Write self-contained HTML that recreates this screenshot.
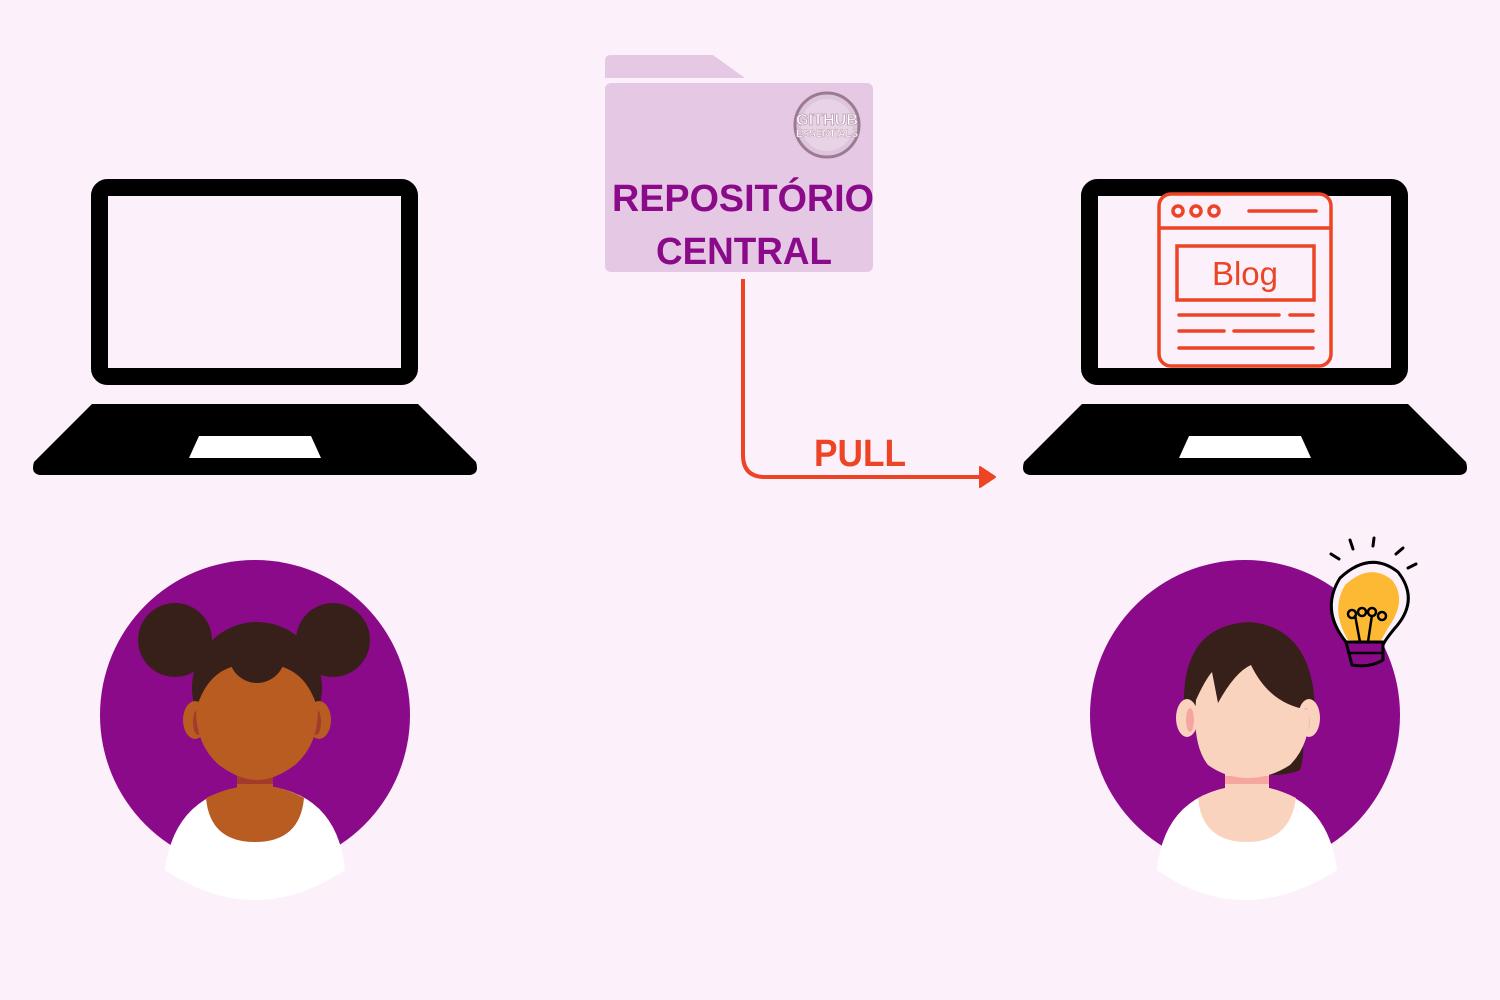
<!DOCTYPE html>
<html><head><meta charset="utf-8"><style>
html,body{margin:0;padding:0;background:#fcf1fa;}
svg{display:block}
</style></head><body>
<svg width="1500" height="1000" viewBox="0 0 1500 1000" xmlns="http://www.w3.org/2000/svg">
<rect width="1500" height="1000" fill="#fcf1fa"/>
<g>
<rect x="99.5" y="187.5" width="310" height="189" rx="8" fill="none" stroke="#000" stroke-width="17"/>
<path d="M92 404 H418 L476 462 Q480 475 468 475 H42 Q30 475 34 462 Z" fill="#000"/>
<path d="M199 436 H311 L321 458 H189 Z" fill="#fff"/>
</g>
<g transform="translate(990,0)">
<rect x="99.5" y="187.5" width="310" height="189" rx="8" fill="none" stroke="#000" stroke-width="17"/>
<path d="M92 404 H418 L476 462 Q480 475 468 475 H42 Q30 475 34 462 Z" fill="#000"/>
<path d="M199 436 H311 L321 458 H189 Z" fill="#fff"/>
</g>
<g stroke="#ec4424" stroke-width="3.5" fill="none" stroke-linecap="round">
<rect x="1159" y="194" width="172" height="172" rx="12" fill="#fcf1fa"/>
<line x1="1159" y1="228" x2="1331" y2="228"/>
<circle cx="1178" cy="211" r="5"/><circle cx="1196" cy="211" r="5"/><circle cx="1214" cy="211" r="5"/>
<line x1="1249" y1="211" x2="1316" y2="211"/>
<rect x="1177" y="246" width="137" height="54"/>
<line x1="1179" y1="315" x2="1279" y2="315"/><line x1="1290" y1="315" x2="1313" y2="315"/>
<line x1="1179" y1="331" x2="1224" y2="331"/><line x1="1234" y1="331" x2="1313" y2="331"/>
<line x1="1179" y1="348" x2="1313" y2="348"/>
</g>
<text x="1245" y="285" text-anchor="middle" font-family="Liberation Sans, sans-serif" font-size="33" fill="#ec4424">Blog</text>
<path d="M611 55 H713 L745 78 H605 V61 Q605 55 611 55 Z" fill="#e5c8e4"/>
<rect x="605" y="83" width="268" height="189" rx="6" fill="#e5c8e4"/>
<circle cx="827" cy="125" r="32" fill="#ddc5dd" stroke="#9e7a92" stroke-width="3"/>
<circle cx="827" cy="125" r="26" fill="#e8d3e6"/>
<text x="827" y="125" text-anchor="middle" font-family="Liberation Sans, sans-serif" font-weight="bold" font-size="16" fill="#fff" stroke="#b89aae" stroke-width="0.8" textLength="62" lengthAdjust="spacingAndGlyphs">GITHUB</text>
<text x="827" y="137" text-anchor="middle" font-family="Liberation Sans, sans-serif" font-weight="bold" font-size="11" fill="#fff" stroke="#b89aae" stroke-width="0.5" textLength="62" lengthAdjust="spacingAndGlyphs">ESSENTIALS</text>
<text x="743" y="211" text-anchor="middle" font-family="Liberation Sans, sans-serif" font-weight="bold" font-size="38" fill="#8a0a8a" textLength="262" lengthAdjust="spacingAndGlyphs">REPOSITÓRIO</text>
<text x="744" y="264" text-anchor="middle" font-family="Liberation Sans, sans-serif" font-weight="bold" font-size="38" fill="#8a0a8a" textLength="176" lengthAdjust="spacingAndGlyphs">CENTRAL</text>
<path d="M743 279 V455 Q743 477 765 477 H983" fill="none" stroke="#ec4424" stroke-width="4"/>
<path d="M980 467 L995 477 L980 487 Z" fill="#ec4424" stroke="#ec4424" stroke-width="2" stroke-linejoin="round"/>
<text x="860" y="466" text-anchor="middle" font-family="Liberation Sans, sans-serif" font-weight="bold" font-size="38" fill="#ec4424" textLength="92" lengthAdjust="spacingAndGlyphs">PULL</text>
<!-- Left avatar -->
<circle cx="255" cy="715" r="155" fill="#8a0a8a"/>
<path d="M165 870 Q175 790 257 785 Q337 790 345 870 Q300 900 255 900 Q210 900 165 870 Z" fill="#fff"/>
<path d="M206 798 Q230 786 257 785 Q283 786 304 798 Q300 842 255 842 Q210 842 206 798 Z" fill="#b85c22"/>
<rect x="237" y="760" width="36" height="30" fill="#b85c22"/>
<rect x="237" y="776" width="36" height="8" fill="#a33b2c"/>
<circle cx="175" cy="640" r="37" fill="#38201a"/>
<circle cx="333" cy="640" r="37" fill="#38201a"/>
<ellipse cx="257" cy="688" rx="65" ry="66" fill="#38201a"/>
<ellipse cx="195" cy="720" rx="12" ry="19" fill="#b85c22"/>
<ellipse cx="198" cy="722" rx="5" ry="13" fill="#a33b2c"/>
<ellipse cx="319" cy="720" rx="12" ry="19" fill="#b85c22"/>
<ellipse cx="316" cy="722" rx="5" ry="13" fill="#a33b2c"/>
<path d="M196 710 Q210 660 257 665 Q304 660 318 710 Q318 745 295 765 Q275 780 257 780 Q239 780 219 765 Q196 745 196 710 Z" fill="#b85c22"/>
<circle cx="257" cy="655" r="28" fill="#38201a"/>
<!-- Right avatar -->
<circle cx="1245" cy="715" r="155" fill="#8a0a8a"/>
<path d="M1157 870 Q1165 790 1247 785 Q1327 790 1337 870 Q1290 900 1245 900 Q1200 900 1157 870 Z" fill="#fff"/>
<path d="M1198 798 Q1222 786 1247 785 Q1273 786 1296 798 Q1290 842 1247 842 Q1202 842 1198 798 Z" fill="#fad3bf"/>
<rect x="1225" y="760" width="44" height="30" fill="#fad3bf"/>
<rect x="1225" y="776" width="44" height="8" fill="#f5a6a0"/>
<path d="M1290 700 Q1310 740 1300 770 Q1290 775 1270 775 Z" fill="#38201a"/>
<path d="M1184 705 Q1182 625 1250 622 Q1312 628 1315 708 Z" fill="#38201a"/>
<ellipse cx="1187" cy="718" rx="11" ry="19" fill="#fad3bf"/>
<ellipse cx="1190" cy="720" rx="4" ry="12" fill="#f5a6a0"/>
<ellipse cx="1309" cy="718" rx="11" ry="19" fill="#fad3bf"/>
<ellipse cx="1306" cy="720" rx="4" ry="12" fill="#f5a6a0"/>
<path d="M1196 700 Q1205 680 1212 672 L1218 703 Q1235 672 1251 665 Q1270 705 1310 710 Q1310 745 1290 765 Q1270 778 1248 778 Q1226 778 1208 765 Q1192 745 1196 700 Z" fill="#fad3bf"/>
<!-- Bulb -->
<g stroke="#000" stroke-width="3" fill="none" stroke-linecap="round">
<line x1="1331" y1="554" x2="1339" y2="559"/>
<line x1="1350" y1="540" x2="1353" y2="549"/>
<line x1="1374" y1="538" x2="1373" y2="546"/>
<line x1="1403" y1="548" x2="1396" y2="554"/>
<line x1="1416" y1="564" x2="1408" y2="568"/>
</g>
<path d="M1346 642 Q1320 610 1340 578 Q1370 550 1398 572 Q1420 600 1395 628 Q1385 640 1383 645 Z" fill="#fcf1fa" stroke="#000" stroke-width="3"/>
<path d="M1348 640 Q1330 610 1345 585 Q1370 562 1392 580 Q1408 600 1388 628 L1380 642 Z" fill="#fdb933"/>
<path d="M1346 642 H1383 V660 Q1370 668 1352 665 Z" fill="#8a0a8a" stroke="#000" stroke-width="3" stroke-linejoin="round"/>
<g stroke="#000" stroke-width="2.5" fill="none">
<line x1="1360" y1="642" x2="1355" y2="615"/><line x1="1368" y1="642" x2="1372" y2="615"/>
<circle cx="1352" cy="614" r="4"/><circle cx="1362" cy="612" r="4"/><circle cx="1372" cy="612" r="4"/><circle cx="1382" cy="616" r="4"/>
<line x1="1348" y1="653" x2="1382" y2="653"/>
</g>
</svg>
</body></html>
